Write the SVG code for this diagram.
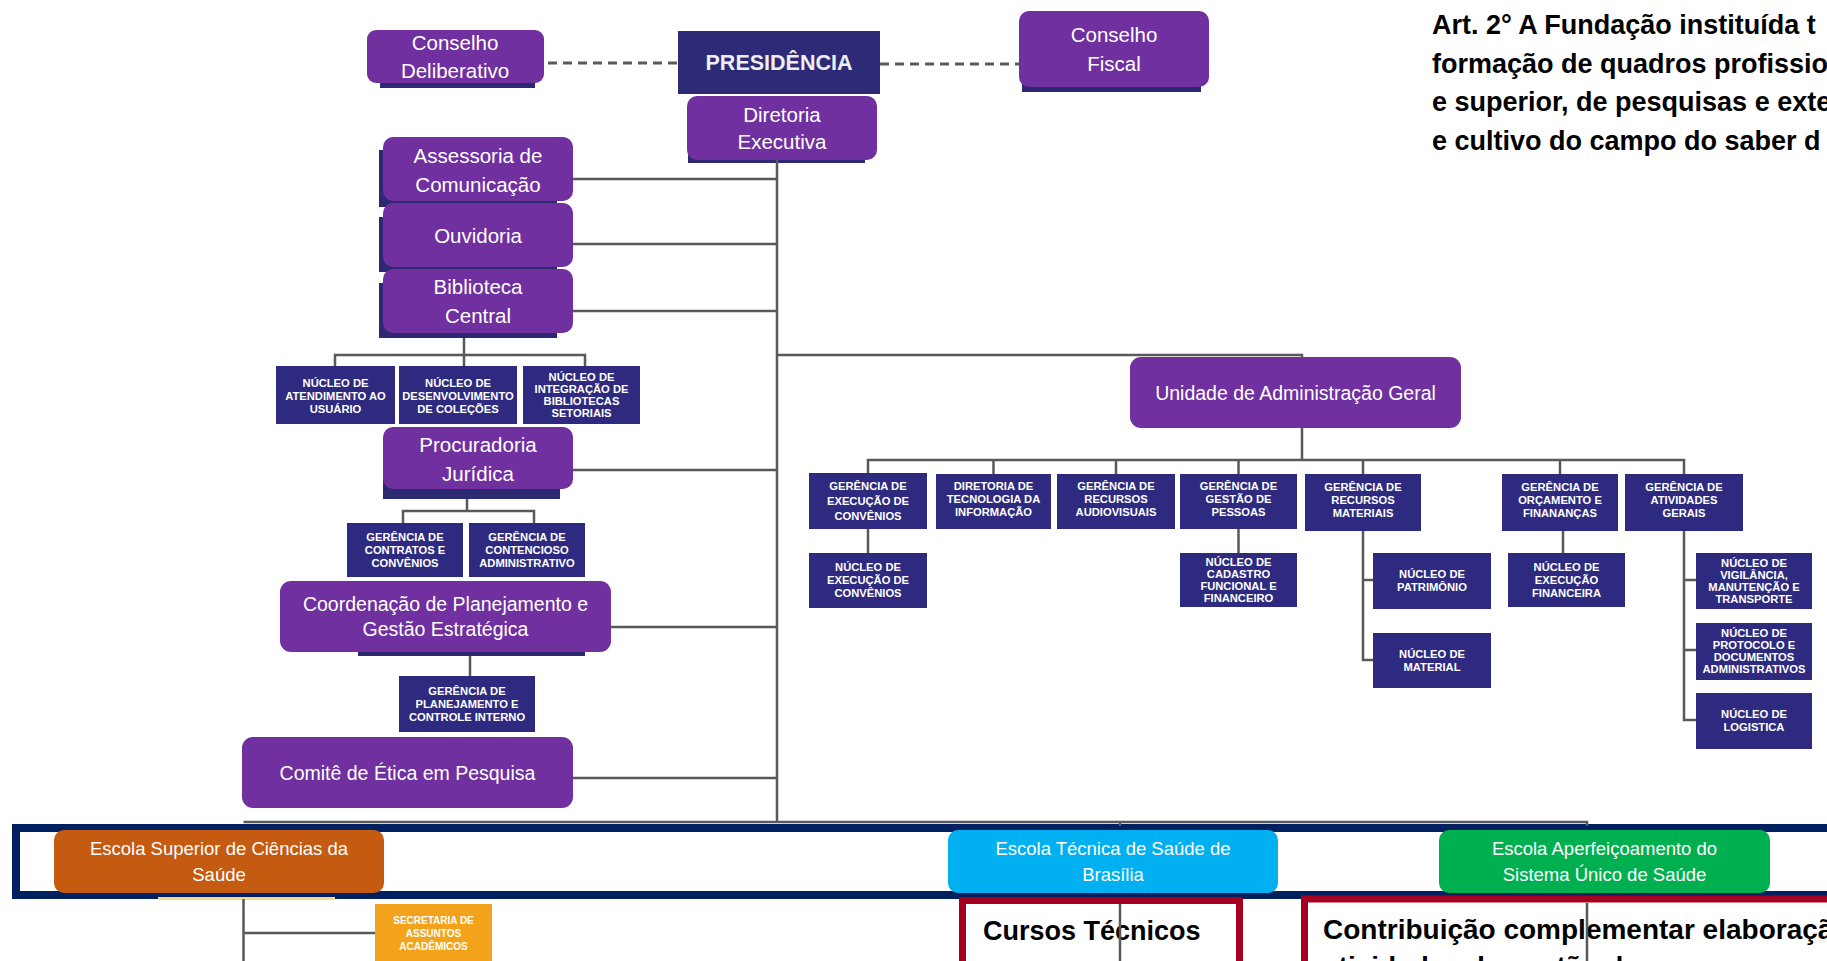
<svg xmlns="http://www.w3.org/2000/svg" width="1827" height="961" viewBox="0 0 1827 961">
<style>
.pb{fill:#7030A0}
.sh{fill:#2D2872}
.nb{fill:#2E2A80}
.ln{stroke:#595959;stroke-width:2.5;fill:none}
.dash{stroke:#5A5A5A;stroke-width:3;fill:none;stroke-dasharray:9 6}
text{font-family:"Liberation Sans",Arial,sans-serif}
.tw{fill:#fff;text-anchor:middle;font-size:20.5px}
.tu{fill:#fff;text-anchor:middle;font-size:19.5px}
.ts{fill:#fff;text-anchor:middle;font-size:11.2px;font-weight:bold}
.te{fill:#fff;text-anchor:middle;font-size:18.5px}
.tk{fill:#000;font-weight:bold}
</style>
<rect width="1827" height="961" fill="#fff"/>

<g id="art2">
<text class="tk" x="1432" y="34" font-size="27">Art. 2° A Fundação instituída t</text>
<text class="tk" x="1432" y="72.5" font-size="27">formação de quadros profissio</text>
<text class="tk" x="1432" y="111" font-size="27">e superior, de pesquisas e exte</text>
<text class="tk" x="1432" y="149.5" font-size="27">e cultivo do campo do saber d</text>
</g>

<g id="conselho-deliberativo">
<rect class="sh" x="380" y="40" width="155" height="48"/>
<rect class="pb" x="367" y="30" width="177" height="53" rx="9"/>
<text class="tw" x="455" y="50" font-size="21">Conselho</text>
<text class="tw" x="455" y="78" font-size="21">Deliberativo</text>
</g>

<g id="presidencia">
<rect fill="#2D2A78" x="678" y="31" width="202" height="63"/>
<text x="779" y="70" fill="#EEEEEE" text-anchor="middle" font-size="21.5" font-weight="bold">PRESIDÊNCIA</text>
</g>

<g id="conselho-fiscal">
<rect class="sh" x="1022" y="40" width="179" height="52"/>
<rect class="pb" x="1019" y="11" width="190" height="76" rx="10"/>
<text class="tw" x="1114" y="42" font-size="21">Conselho</text>
<text class="tw" x="1114" y="71" font-size="21">Fiscal</text>
</g>

<g id="diretoria-executiva">
<rect class="sh" x="688" y="110" width="177" height="53"/>
<rect class="pb" x="687" y="96" width="190" height="64" rx="10"/>
<text class="tw" x="782" y="122">Diretoria</text>
<text class="tw" x="782" y="149">Executiva</text>
</g>

<g id="assessoria">
<rect class="sh" x="379" y="150" width="178" height="57"/>
<rect class="pb" x="383" y="137" width="190" height="64" rx="10"/>
<text class="tw" x="478" y="163">Assessoria de</text>
<text class="tw" x="478" y="192">Comunicação</text>
</g>

<g id="ouvidoria">
<rect class="sh" x="379" y="217" width="178" height="55"/>
<rect class="pb" x="383" y="203" width="190" height="64" rx="10"/>
<text class="tw" x="478" y="243">Ouvidoria</text>
</g>

<g id="biblioteca">
<rect class="sh" x="379" y="283" width="178" height="55"/>
<rect class="pb" x="383" y="269" width="190" height="64" rx="10"/>
<text class="tw" x="478" y="294">Biblioteca</text>
<text class="tw" x="478" y="323">Central</text>
</g>

<g id="nucleo-atendimento">
<rect class="nb" x="276" y="366" width="119" height="58"/>
<text class="ts"><tspan x="335.5" y="387">NÚCLEO DE</tspan><tspan x="335.5" y="400">ATENDIMENTO AO</tspan><tspan x="335.5" y="413">USUÁRIO</tspan></text>
</g>
<g id="nucleo-desenvolvimento">
<rect class="nb" x="399" y="366" width="118" height="58"/>
<text class="ts"><tspan x="458" y="387">NÚCLEO DE</tspan><tspan x="458" y="400">DESENVOLVIMENTO</tspan><tspan x="458" y="413">DE COLEÇÕES</tspan></text>
</g>
<g id="nucleo-integracao">
<rect class="nb" x="523" y="366" width="117" height="58"/>
<text class="ts"><tspan x="581.5" y="381">NÚCLEO DE</tspan><tspan x="581.5" y="393">INTEGRAÇÃO DE</tspan><tspan x="581.5" y="405">BIBLIOTECAS</tspan><tspan x="581.5" y="417">SETORIAIS</tspan></text>
</g>

<g id="procuradoria">
<rect class="sh" x="383" y="440" width="177" height="59"/>
<rect class="pb" x="383" y="427" width="190" height="62" rx="10"/>
<text class="tw" x="478" y="452">Procuradoria</text>
<text class="tw" x="478" y="481">Jurídica</text>
</g>

<g id="ger-contratos">
<rect class="nb" x="347" y="523" width="116" height="54"/>
<text class="ts"><tspan x="405" y="541">GERÊNCIA DE</tspan><tspan x="405" y="554">CONTRATOS E</tspan><tspan x="405" y="567">CONVÊNIOS</tspan></text>
</g>
<g id="ger-contencioso">
<rect class="nb" x="469" y="523" width="116" height="54"/>
<text class="ts"><tspan x="527" y="541">GERÊNCIA DE</tspan><tspan x="527" y="554">CONTENCIOSO</tspan><tspan x="527" y="567">ADMINISTRATIVO</tspan></text>
</g>

<g id="coordenacao">
<rect class="sh" x="358" y="600" width="227" height="56"/>
<rect class="pb" x="280" y="581" width="331" height="71" rx="11"/>
<text class="tu" x="445.5" y="611">Coordenação de Planejamento e</text>
<text class="tu" x="445.5" y="636">Gestão Estratégica</text>
</g>

<g id="ger-planejamento">
<rect class="nb" x="399" y="676" width="136" height="56"/>
<text class="ts"><tspan x="467" y="695">GERÊNCIA DE</tspan><tspan x="467" y="708">PLANEJAMENTO E</tspan><tspan x="467" y="721">CONTROLE INTERNO</tspan></text>
</g>

<g id="comite">
<rect class="pb" x="242" y="737" width="331" height="71" rx="11"/>
<text class="tu" x="407.5" y="780" font-size="19">Comitê de Ética em Pesquisa</text>
</g>

<g id="unidade">
<rect class="pb" x="1130" y="357" width="331" height="71" rx="11"/>
<text class="tu" x="1295.5" y="400">Unidade de Administração Geral</text>
</g>

<g id="ger-exec-convenios">
<rect class="nb" x="809" y="473" width="118" height="56"/>
<text class="ts"><tspan x="868" y="490">GERÊNCIA DE</tspan><tspan x="868" y="505">EXECUÇÃO DE</tspan><tspan x="868" y="520">CONVÊNIOS</tspan></text>
</g>
<g id="dir-ti">
<rect class="nb" x="936" y="474" width="115" height="55"/>
<text class="ts"><tspan x="993.5" y="490">DIRETORIA DE</tspan><tspan x="993.5" y="503">TECNOLOGIA DA</tspan><tspan x="993.5" y="516">INFORMAÇÃO</tspan></text>
</g>
<g id="ger-audiovisuais">
<rect class="nb" x="1057" y="474" width="118" height="55"/>
<text class="ts"><tspan x="1116" y="490">GERÊNCIA DE</tspan><tspan x="1116" y="503">RECURSOS</tspan><tspan x="1116" y="516">AUDIOVISUAIS</tspan></text>
</g>
<g id="ger-pessoas">
<rect class="nb" x="1180" y="474" width="117" height="55"/>
<text class="ts"><tspan x="1238.5" y="490">GERÊNCIA DE</tspan><tspan x="1238.5" y="503">GESTÃO DE</tspan><tspan x="1238.5" y="516">PESSOAS</tspan></text>
</g>
<g id="ger-materiais">
<rect class="nb" x="1305" y="474" width="116" height="57"/>
<text class="ts"><tspan x="1363" y="491">GERÊNCIA DE</tspan><tspan x="1363" y="504">RECURSOS</tspan><tspan x="1363" y="517">MATERIAIS</tspan></text>
</g>
<g id="ger-orcamento">
<rect class="nb" x="1502" y="474" width="116" height="57"/>
<text class="ts"><tspan x="1560" y="491">GERÊNCIA DE</tspan><tspan x="1560" y="504">ORÇAMENTO E</tspan><tspan x="1560" y="517">FINANANÇAS</tspan></text>
</g>
<g id="ger-atividades">
<rect class="nb" x="1625" y="474" width="118" height="57"/>
<text class="ts"><tspan x="1684" y="491">GERÊNCIA DE</tspan><tspan x="1684" y="504">ATIVIDADES</tspan><tspan x="1684" y="517">GERAIS</tspan></text>
</g>

<g id="nuc-exec-convenios">
<rect class="nb" x="809" y="553" width="118" height="55"/>
<text class="ts"><tspan x="868" y="571">NÚCLEO DE</tspan><tspan x="868" y="584">EXECUÇÃO DE</tspan><tspan x="868" y="597">CONVÊNIOS</tspan></text>
</g>
<g id="nuc-cadastro">
<rect class="nb" x="1180" y="553" width="117" height="54"/>
<text class="ts"><tspan x="1238.5" y="566">NÚCLEO DE</tspan><tspan x="1238.5" y="578">CADASTRO</tspan><tspan x="1238.5" y="590">FUNCIONAL E</tspan><tspan x="1238.5" y="602">FINANCEIRO</tspan></text>
</g>
<g id="nuc-patrimonio">
<rect class="nb" x="1373" y="553" width="118" height="56"/>
<text class="ts"><tspan x="1432" y="578">NÚCLEO DE</tspan><tspan x="1432" y="591">PATRIMÔNIO</tspan></text>
</g>
<g id="nuc-material">
<rect class="nb" x="1373" y="633" width="118" height="55"/>
<text class="ts"><tspan x="1432" y="658">NÚCLEO DE</tspan><tspan x="1432" y="671">MATERIAL</tspan></text>
</g>
<g id="nuc-exec-financeira">
<rect class="nb" x="1508" y="553" width="117" height="54"/>
<text class="ts"><tspan x="1566.5" y="571">NÚCLEO DE</tspan><tspan x="1566.5" y="584">EXECUÇÃO</tspan><tspan x="1566.5" y="597">FINANCEIRA</tspan></text>
</g>
<g id="nuc-vigilancia">
<rect class="nb" x="1696" y="553" width="116" height="56"/>
<text class="ts"><tspan x="1754" y="567">NÚCLEO DE</tspan><tspan x="1754" y="579">VIGILÂNCIA,</tspan><tspan x="1754" y="591">MANUTENÇÃO E</tspan><tspan x="1754" y="603">TRANSPORTE</tspan></text>
</g>
<g id="nuc-protocolo">
<rect class="nb" x="1696" y="623" width="116" height="57"/>
<text class="ts"><tspan x="1754" y="637">NÚCLEO DE</tspan><tspan x="1754" y="649">PROTOCOLO E</tspan><tspan x="1754" y="661">DOCUMENTOS</tspan><tspan x="1754" y="673">ADMINISTRATIVOS</tspan></text>
</g>
<g id="nuc-logistica">
<rect class="nb" x="1696" y="693" width="116" height="56"/>
<text class="ts"><tspan x="1754" y="718">NÚCLEO DE</tspan><tspan x="1754" y="731">LOGISTICA</tspan></text>
</g>

<g id="faixa-escolas">
<rect x="16" y="828" width="1830" height="67" fill="#fff" stroke="#002060" stroke-width="8"/>
<rect x="158" y="897" width="177" height="3" fill="#F7D98B"/>
<rect x="1491" y="898" width="201" height="3" fill="#BFEBD0"/>
</g>

<g id="escola-superior">
<rect x="54" y="830" width="330" height="63" rx="10" fill="#C55A11"/>
<text class="te" x="219" y="855">Escola Superior de Ciências da</text>
<text class="te" x="219" y="881">Saúde</text>
</g>
<g id="escola-tecnica">
<rect x="948" y="830" width="330" height="63" rx="10" fill="#00B0F0"/>
<text class="te" x="1113" y="855">Escola Técnica de Saúde de</text>
<text class="te" x="1113" y="881">Brasília</text>
</g>
<g id="escola-aperfeicoamento">
<rect x="1439" y="830" width="331" height="63" rx="10" fill="#00B050"/>
<text class="te" x="1604.5" y="855">Escola Aperfeiçoamento do</text>
<text class="te" x="1604.5" y="881">Sistema Único de Saúde</text>
</g>

<g id="secretaria">
<rect x="375" y="904" width="117" height="70" fill="#F2A31B"/>
<text class="ts" font-size="10" fill="#FCEBD0"><tspan x="433.5" y="924" font-size="10">SECRETARIA DE</tspan><tspan x="433.5" y="937" font-size="10">ASSUNTOS</tspan><tspan x="433.5" y="950" font-size="10">ACADÊMICOS</tspan></text>
</g>

<g id="cursos-tecnicos">
<rect x="962.5" y="900.5" width="277" height="100" fill="#fff" stroke="#A50021" stroke-width="7"/>
<text class="tk" x="983" y="940" font-size="27">Cursos Técnicos</text>
</g>

<g id="contribuicao">
<rect x="1304.5" y="899" width="600" height="100" fill="#fff" stroke="#A50021" stroke-width="7"/>
<text class="tk" x="1323" y="939" font-size="28">Contribuição complementar elaboração</text>
<text class="tk" x="1323" y="976" font-size="28">atividades de gestão de</text>
</g>

<g id="conectores">
<path class="dash" d="M548 63H678M880 64H1019"/>
<path class="ln" d="M777 160V822"/>
<path class="ln" d="M573 179H777M573 244H777M573 311H777M573 470H777M611 627H777M573 778H777"/>
<path class="ln" d="M464 338V355M335 366V355H585V366M464 355V366"/>
<path class="ln" d="M467 499V511M403 523V511H534V523"/>
<path class="ln" d="M470 656V676"/>
<path class="ln" d="M777 355H1302V357M1302 428V460M868 473V460H1684V474M993.5 460V474M1116 460V474M1238.5 460V474M1363 460V474M1560 460V474"/>
<path class="ln" d="M868 529V553M1238.5 529V553M1363 531V660H1373M1363 580H1373M1563 531V553M1684 531V720H1696M1684 580H1696M1684 650H1696"/>
<path class="ln" d="M243.5 822H1587V826M1120 822V826"/>
<path class="ln" d="M243.5 899V961M243.5 933H375"/>
<path class="ln" d="M1120 904V961M1587 903V961"/>
</g>
</svg>
